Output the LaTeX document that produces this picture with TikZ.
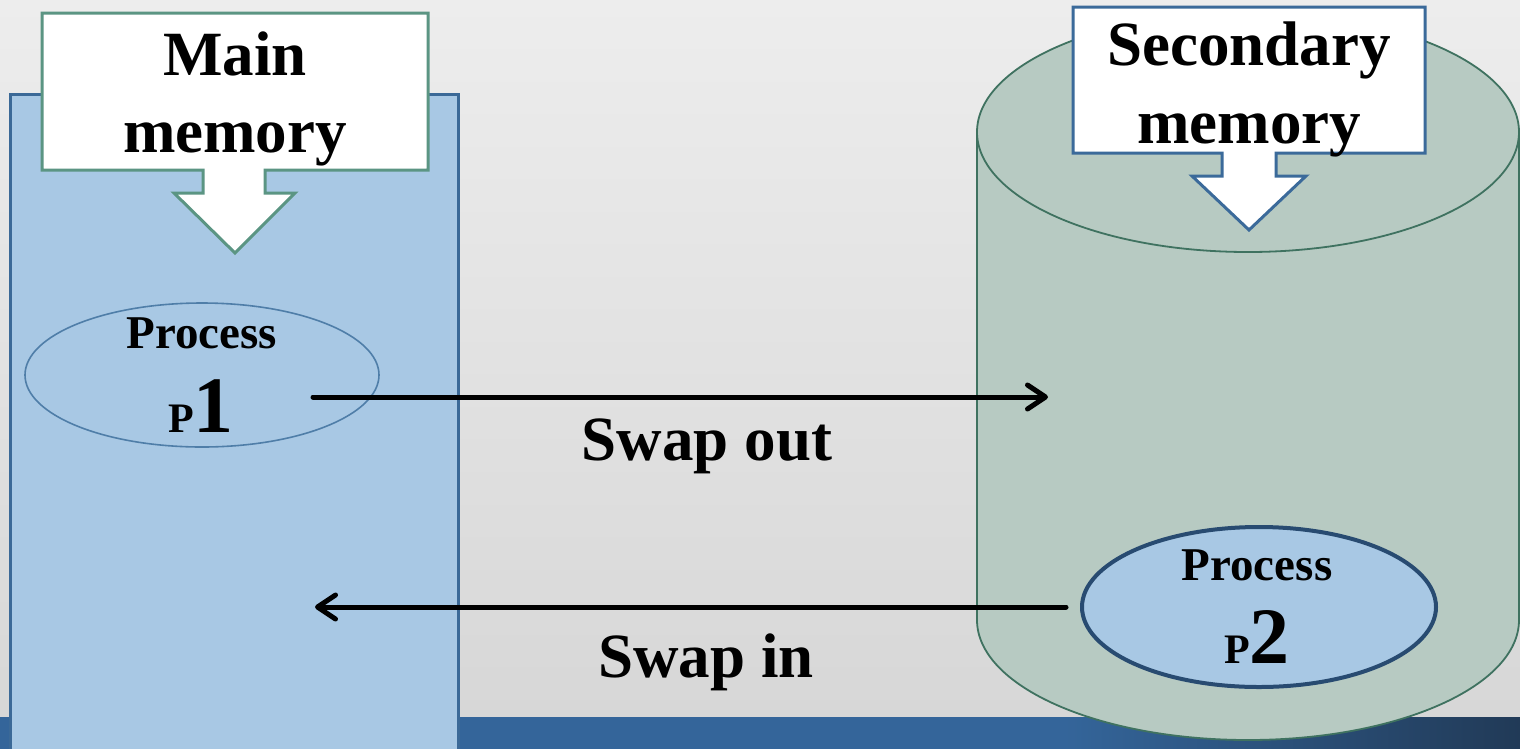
\documentclass[tikz,border=0pt]{standalone}
\usepackage{fontspec}
\setmainfont{Liberation Serif}
\usetikzlibrary{shapes.geometric,arrows.meta}
\definecolor{bgtop}{HTML}{EDEDED}
\definecolor{bgbot}{HTML}{D6D6D6}
\definecolor{barblue}{HTML}{34659A}
\definecolor{bardark}{HTML}{213A57}
\definecolor{memfill}{HTML}{A8C8E4}
\definecolor{memedge}{HTML}{3B6997}
\definecolor{cylfill}{HTML}{B7CAC2}
\definecolor{cyledge}{HTML}{3F7260}
\definecolor{calgreen}{HTML}{5B9583}
\definecolor{calblue}{HTML}{3B6A9A}
\definecolor{p1edge}{HTML}{4F7EA8}
\definecolor{p2edge}{HTML}{284B71}
\pgfdeclarehorizontalshading{barshade}{100bp}{color(0bp)=(barblue); color(60bp)=(barblue); color(75bp)=(bardark); color(100bp)=(bardark)}
\tikzset{
  bigtext/.style={anchor=base, inner sep=0pt, font=\fontsize{63}{76}\selectfont\bfseries},
  proctext/.style={anchor=base, inner sep=0pt, font=\fontsize{47}{52}\selectfont\bfseries},
  swaparrow/.style={line width=5pt, line cap=round, -{Straight Barb[length=18pt,width=24pt,line cap=round,line join=round]}},
  callout/.style={fill=white, line width=3pt, line join=miter},
}
\begin{document}
\begin{tikzpicture}[x=1pt,y=-1pt]
\useasboundingbox (0,0) rectangle (1520,748);
\clip (0,0) rectangle (1520,748);
% background
\shade[top color=bgtop, bottom color=bgbot] (0,0) rectangle (1520,748);
% bottom bar
\shade[shading=barshade] (0,717) rectangle (1520,748);
% main memory column
\draw[fill=memfill, draw=memedge, line width=3pt] (10,94) rectangle (458,770);
% secondary memory cylinder
\fill[cylfill] (977,132) -- (977,620) arc[start angle=180, end angle=0, x radius=271, y radius=120]
  -- (1519,132) arc[start angle=0, end angle=-180, x radius=271, y radius=120] -- cycle;
\draw[cyledge, line width=1.8pt] (977,132) -- (977,620) arc[start angle=180, end angle=0, x radius=271, y radius=120] -- (1519,132);
\draw[cyledge, line width=1.8pt] (1248,132) ellipse[x radius=271, y radius=120];
% process ellipses
\node[ellipse, draw=p1edge, line width=1.6pt, minimum width=354pt, minimum height=144pt, inner sep=0pt] (p1) at (202,375) {};
\node[ellipse, draw=p2edge, fill=memfill, line width=4pt, minimum width=354pt, minimum height=160pt, inner sep=0pt] (p2) at (1259,607) {};
\node[proctext] (p1proc) at (202,348) {Process};
\node[anchor=base, inner sep=0pt, font=\bfseries] (p1name) at (201,432) {\fontsize{42}{50}\selectfont P\fontsize{80}{90}\selectfont 1};
\node[proctext] (p2proc) at (1257,580) {Process};
\node[anchor=base, inner sep=0pt, font=\bfseries] (p2name) at (1257,663) {\fontsize{42}{50}\selectfont P\fontsize{80}{90}\selectfont 2};
% arrows
\coordinate (outS) at (313,397);
\coordinate (outE) at (1048,397);
\coordinate (inS) at (1066,607);
\coordinate (inE) at (315,607);
\draw[swaparrow] (outS) -- (outE);
\draw[swaparrow] (inS) -- (inE);
\node[bigtext] (swapout) at (707,460) {Swap out};
\node[bigtext] (swapin) at (706,677) {Swap in};
% main memory callout
\draw[callout, draw=calgreen] (42,13) -- (428,13) -- (428,170) -- (265,170) -- (265,193) -- (295,193)
  -- (235,253) -- (174,193) -- (203,193) -- (203,170) -- (42,170) -- cycle;
\node[bigtext] (mainA) at (235,75) {Main};
\node[bigtext] (mainB) at (235,152) {memory};
% secondary memory callout
\draw[callout, draw=calblue] (1073,7) -- (1425,7) -- (1425,153) -- (1276,153) -- (1276,176) -- (1306,176)
  -- (1249,230) -- (1192,176) -- (1222,176) -- (1222,153) -- (1073,153) -- cycle;
\node[bigtext] (secA) at (1249,65) {Secondary};
\node[bigtext] (secB) at (1249,143) {memory};
\end{tikzpicture}
\end{document}
